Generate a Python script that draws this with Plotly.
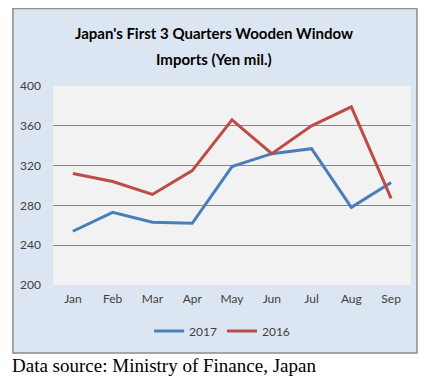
import plotly.graph_objects as go

months = ["Jan", "Feb", "Mar", "Apr", "May", "Jun", "Jul", "Aug", "Sep"]
imports_2017 = [254, 273, 263, 262, 319, 332, 337, 278, 303]
imports_2016 = [312, 304, 291, 315, 366, 332, 360, 379, 287]
y_ticks = [200, 240, 280, 320, 360, 400]

OFF = 8  # page body margin
W, H = 434 - OFF, 381 - OFF
L, R, T, B = 49 - OFF, 31 - OFF, 86 - OFF, 104 - OFF
pw, ph = W - L - R, H - T - B

def px(x):
    return (x - OFF - L) / pw

def py(y):
    return (H - B - (y - OFF)) / ph

fig = go.Figure()
fig.add_trace(go.Scatter(x=months, y=imports_2017, mode="lines", name="2017",
                         line=dict(color="#4a7ebb", width=3)))
fig.add_trace(go.Scatter(x=months, y=imports_2016, mode="lines", name="2016",
                         line=dict(color="#be4b48", width=3)))

fig.add_shape(type="rect", xref="paper", yref="paper", layer="below",
              x0=px(8.5), x1=px(417), y0=py(353), y1=py(8.5),
              fillcolor="#dce6f2", line=dict(color="#8c8c8c", width=1.5))
fig.add_shape(type="rect", xref="paper", yref="paper", layer="below",
              x0=0, x1=1, y0=0, y1=1, fillcolor="#f2f2f2", line=dict(width=0))

font = "Lato"
fig.add_annotation(text="<b>Japan's First 3 Quarters Wooden Window</b>", xref="paper", yref="paper",
                   x=px(212), y=py(33), showarrow=False, xanchor="center", yanchor="middle",
                   font=dict(family=font, size=15, color="#000000"))
fig.add_annotation(text="<b>Imports (Yen mil.)</b>", xref="paper", yref="paper",
                   x=px(212), y=py(59), showarrow=False, xanchor="center", yanchor="middle",
                   font=dict(family=font, size=15, color="#000000"))
fig.add_annotation(text="Data source: Ministry of Finance, Japan", xref="paper", yref="paper",
                   x=px(6), y=py(365), showarrow=False, xanchor="left", yanchor="middle",
                   font=dict(family="Liberation Serif", size=19, color="#000000"))

fig.update_layout(
    width=W, height=H,
    margin=dict(l=L, r=R, t=T, b=B),
    paper_bgcolor="white", plot_bgcolor="rgba(0,0,0,0)",
    showlegend=True,
    legend=dict(orientation="h", x=px(220), xanchor="center", y=py(331), yanchor="middle",
                bgcolor="rgba(0,0,0,0)", font=dict(family=font, size=12, color="#404040"),
                itemwidth=30),
    xaxis=dict(range=[-0.5, 8.5], showgrid=False, showline=False, zeroline=False,
               ticks="", tickfont=dict(family=font, size=12, color="#404040"),
               ticklabelstandoff=5),
    yaxis=dict(range=[200, 400], tickvals=y_ticks, showgrid=True, gridcolor="#878787",
               gridwidth=1, zeroline=False, showline=False, ticks="",
               tickfont=dict(family=font, size=12, color="#404040"), ticklabelstandoff=11),
)

fig.write_html("out.html")
